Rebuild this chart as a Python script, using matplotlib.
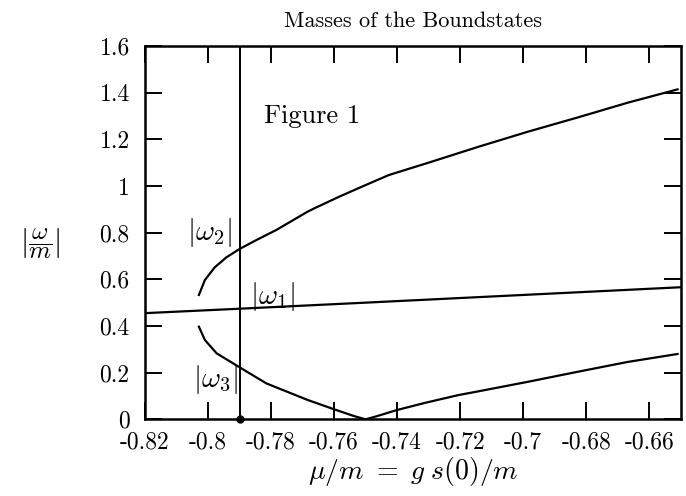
import numpy as np
import matplotlib
matplotlib.use("Agg")
import matplotlib.pyplot as plt
from matplotlib.ticker import FuncFormatter

plt.rcParams['font.family'] = 'cmr10'
plt.rcParams['mathtext.fontset'] = 'cm'
plt.rcParams['axes.unicode_minus'] = False
plt.rcParams['axes.formatter.use_mathtext'] = True

# values
w1_x = [-0.82, -0.79, -0.75, -0.70, -0.65]
w1_y = [0.455, 0.474, 0.500, 0.533, 0.566]

w2_x = [-0.8029, -0.801, -0.7979, -0.7942, -0.79, -0.7847, -0.7784, -0.7684,
        -0.7663, -0.7584, -0.7505, -0.7426, -0.73, -0.7142, -0.6984, -0.6826,
        -0.6668, -0.651]
w2_y = [0.533, 0.597, 0.651, 0.694, 0.730, 0.768, 0.811, 0.890,
        0.904, 0.954, 1.001, 1.047, 1.100, 1.168, 1.233, 1.294,
        1.357, 1.414]

w3_x = [-0.8029, -0.801, -0.7973, -0.79, -0.7815, -0.7684, -0.76, -0.7537,
        -0.75, -0.7468, -0.74, -0.731, -0.7205, -0.7142, -0.6984, -0.6826,
        -0.6668, -0.651]
w3_y = [0.397, 0.340, 0.283, 0.223, 0.154, 0.083, 0.043, 0.014,
        0.0, 0.012, 0.040, 0.071, 0.104, 0.120, 0.161, 0.204,
        0.246, 0.280]

cut_x = -0.79

fig = plt.figure(figsize=(6.86, 4.96), dpi=100)
ax = fig.add_axes([0.2114, 0.1546, 0.7809, 0.7527])

ax.plot(w1_x, w1_y, color='black', lw=1.6)
ax.plot(w2_x, w2_y, color='black', lw=1.6)
ax.plot(w3_x, w3_y, color='black', lw=1.6)
ax.axvline(cut_x, color='black', lw=1.4)
ax.plot([cut_x], [0], 'o', color='black', ms=5, clip_on=False, zorder=5)

ax.set_xlim(-0.82, -0.65)
ax.set_ylim(0, 1.6)
ax.set_xticks(np.arange(-0.82, -0.655, 0.02))
ax.set_yticks(np.arange(0, 1.61, 0.2))
fmt = FuncFormatter(lambda v, p: '%g' % round(v, 2))
ax.xaxis.set_major_formatter(fmt)
ax.yaxis.set_major_formatter(fmt)
ax.tick_params(direction='in', length=12, width=1.4, top=True, right=True,
               labelsize=17)
ax.tick_params(axis='x', pad=9)
ax.tick_params(axis='y', pad=11)
for s in ax.spines.values():
    s.set_linewidth(1.8)

ax.text(-0.767, 1.30, 'Figure 1', fontsize=19, ha='center', va='center')
ax.text(-0.7995, 0.80, r'$|\omega_2|$', fontsize=21, ha='center', va='center')
ax.text(-0.7795, 0.525, r'$|\omega_1|$', fontsize=21, ha='center', va='center')
ax.text(-0.7975, 0.17, r'$|\omega_3|$', fontsize=21, ha='center', va='center')

ax.set_title('Masses of the Boundstates', fontsize=16, pad=14)
ax.set_xlabel(r'$\mu/m\ =\ g\;s(0)/m$', fontsize=20, labelpad=1)
fig.text(40 / 686, 1 - 243 / 496, r'$\left|\dfrac{\omega}{m}\right|$',
         fontsize=18, ha='center', va='center')

fig.savefig('out.png', dpi=100)
